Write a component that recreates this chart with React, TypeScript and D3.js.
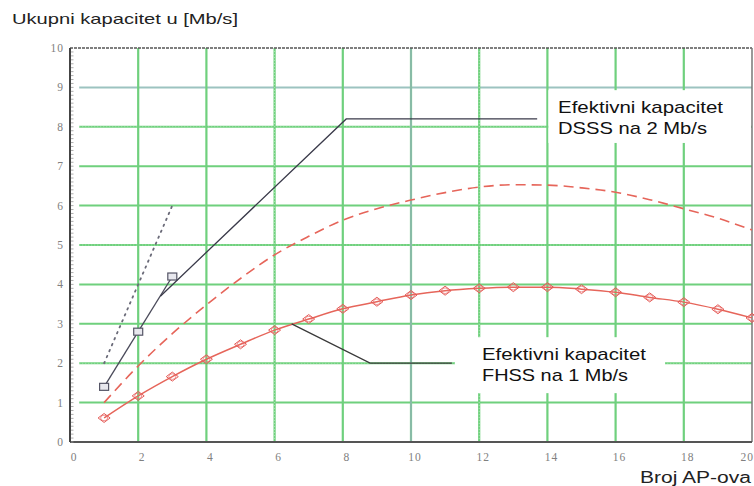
import React from "react";
import * as d3 from "d3";

// broj AP-ova (x) i kapaciteti u Mb/s (y), ocitano sa slike
const apCount = [1, 2, 3, 4, 5, 6, 7, 8, 9, 10, 11, 12, 13, 14, 15, 16, 17, 18, 19, 20];
const fhssValues = [0.61, 1.17, 1.66, 2.1, 2.48, 2.84, 3.12, 3.38, 3.56, 3.73, 3.84, 3.9, 3.93, 3.93, 3.88, 3.8, 3.67, 3.55, 3.37, 3.15];
const dsssCurve = [1.0, 1.93, 2.75, 3.48, 4.15, 4.75, 5.22, 5.63, 5.92, 6.14, 6.33, 6.47, 6.53, 6.52, 6.45, 6.34, 6.15, 5.92, 5.68, 5.38];
const dsssApCount = [1, 2, 3];
const dsssMeasured = [1.4, 2.8, 4.2];
const idealValues = [2, 4, 6];

const xTicks = [0, 2, 4, 6, 8, 10, 12, 14, 16, 18, 20];
const yTicks = [0, 1, 2, 3, 4, 5, 6, 7, 8, 9, 10];
const dottedGridX = [6, 12];
const dottedGridY = [2, 5, 8];

const dsssLeader: [number, number][] = [[2.65, 3.7], [8.1, 8.2], [13.7, 8.2]];
const fhssLeader: [number, number][] = [[6.5, 3.0], [8.8, 2.0], [11.2, 2.0]];

const W = 754;
const H = 486;
const x = d3.scaleLinear().domain([0, 20]).range([70, 752]);
const y = d3.scaleLinear().domain([0, 10]).range([442, 48]);

const GREEN = "#6fd07d";
const RED = "#e6655a";

export default function App() {
  const line = d3.line<[number, number]>().x(d => x(d[0])).y(d => y(d[1]));
  const fhssPts = apCount.map((a, i) => [a, fhssValues[i]] as [number, number]);
  const dsssPts = apCount.map((a, i) => [a, dsssCurve[i]] as [number, number]);
  const measPts = dsssApCount.map((a, i) => [a, dsssMeasured[i]] as [number, number]);
  const idealPts = dsssApCount.map((a, i) => [a, idealValues[i]] as [number, number]);
  const minorTicks = d3.range(0, 100).map(i => i / 10);
  const sans = "'Liberation Sans', Arial, sans-serif";
  const serif = "'Liberation Serif', 'Times New Roman', serif";

  return (
    <svg width={W} height={H} style={{ position: "absolute", left: 0, top: 0, background: "#fff" }}>
      {/* grid */}
      {yTicks.filter(t => t > 0 && t < 10).map(t => (
        <g key={"gy" + t}>
          <line x1={x(0.27)} x2={x(20)} y1={y(t)} y2={y(t)}
            stroke={t === 9 ? "#9cc3c0" : GREEN} strokeWidth={2} />
          {dottedGridY.includes(t) && (
            <line x1={x(0.27)} x2={x(20)} y1={y(t)} y2={y(t)} stroke="#a8e6b0" strokeWidth={1} strokeDasharray="1,2" />
          )}
        </g>
      ))}
      {xTicks.filter(t => t > 0 && t < 20).map(t => (
        <g key={"gx" + t}>
          <line x1={x(t)} x2={x(t)} y1={y(10)} y2={y(0)} stroke={GREEN} strokeWidth={2.2} />
          {t === 10 && (
            <line x1={x(t)} x2={x(t)} y1={y(10)} y2={y(0)} stroke="#93b3b8" strokeWidth={1.4} />
          )}
          {dottedGridX.includes(t) && (
            <line x1={x(t)} x2={x(t)} y1={y(10)} y2={y(0)} stroke="#a8e6b0" strokeWidth={1} strokeDasharray="1,2" />
          )}
        </g>
      ))}

      {/* label boxes hide the grid */}
      <rect x={x(14.03)} y={y(8.93)} width={x(20) - x(14.03) - 1} height={y(7.59) - y(8.93)} fill="#fff" />
      <rect x={x(11.29)} y={y(2.66)} width={x(17.45) - x(11.29)} height={y(1.24) - y(2.66)} fill="#fff" />

      {/* frame */}
      <line x1={x(0)} x2={x(20)} y1={y(10)} y2={y(10)} stroke="#555" strokeWidth={1.5} strokeDasharray="3,1" />
      <line x1={x(20)} x2={x(20)} y1={y(10)} y2={y(0)} stroke="#777" strokeWidth={1.5} />
      <line x1={x(0)} x2={x(20)} y1={y(0)} y2={y(0)} stroke="#555" strokeWidth={2} />
      <line x1={x(0)} x2={x(0)} y1={y(10)} y2={y(0)} stroke="#444" strokeWidth={2} />
      {minorTicks.map(t => (
        <line key={"mt" + t} x1={x(0) + 1} x2={x(0) + 3.5} y1={y(t)} y2={y(t)} stroke="#999" strokeWidth={0.8} />
      ))}

      {/* tick labels */}
      {yTicks.map(t => (
        <text key={"ly" + t} x={x(0) - 6} y={y(t) + 4} textAnchor="end" fontFamily={serif} fontSize={11.5}
          letterSpacing={1} fill="#808080">{t}</text>
      ))}
      {xTicks.map(t => (
        <text key={"lx" + t} x={t === 20 ? 754 : x(t) + 4} y={y(0) + 19} textAnchor={t === 20 ? "end" : "middle"}
          fontFamily={serif} fontSize={11.5} letterSpacing={1} fill="#808080">{t}</text>
      ))}

      {/* series */}
      <path d={line(idealPts) || ""} fill="none" stroke="#6a6a78" strokeWidth={1.8} strokeDasharray="1.5,5" strokeLinecap="round" />
      <path d={line.curve(d3.curveMonotoneX)(dsssPts) || ""} fill="none" stroke={RED} strokeWidth={1.6} strokeDasharray="10,6" />
      <path d={line.curve(d3.curveMonotoneX)(fhssPts) || ""} fill="none" stroke={RED} strokeWidth={1.5} />
      {fhssPts.map(p => (
        <g key={"fm" + p[0]}>
          <path d={`M${x(p[0]) - 6},${y(p[1])} L${x(p[0])},${y(p[1]) - 4.5} L${x(p[0]) + 6},${y(p[1])} L${x(p[0])},${y(p[1]) + 4.5}Z`}
            fill="none" stroke="#e55a55" strokeWidth={1} />
          <ellipse cx={x(p[0])} cy={y(p[1])} rx={3.5} ry={2.8} fill="none" stroke="#e87070" strokeWidth={0.8} />
        </g>
      ))}
      <path d={line.curve(d3.curveLinear)(measPts) || ""} fill="none" stroke="#4a4a5a" strokeWidth={1.3} />
      {measPts.map(p => (
        <rect key={"sq" + p[0]} x={x(p[0]) - 4.5} y={y(p[1]) - 3.5} width={9} height={7}
          fill="#e8e8ee" stroke="#555566" strokeWidth={1.2} />
      ))}

      {/* leader lines */}
      <path d={line(dsssLeader) || ""} fill="none" stroke="#3a3a4a" strokeWidth={1.3} />
      <path d={line(fhssLeader) || ""} fill="none" stroke="#3a3a3a" strokeWidth={1.3} />

      {/* annotations */}
      <text x={558} y={113} fontFamily={sans} fontSize={17} fill="#111" textLength={165} lengthAdjust="spacingAndGlyphs">Efektivni kapacitet</text>
      <text x={558} y={134} fontFamily={sans} fontSize={17} fill="#111" textLength={149} lengthAdjust="spacingAndGlyphs">DSSS na 2 Mb/s</text>
      <text x={482} y={360} fontFamily={sans} fontSize={17} fill="#111" textLength={164} lengthAdjust="spacingAndGlyphs">Efektivni kapacitet</text>
      <text x={482} y={381} fontFamily={sans} fontSize={17} fill="#111" textLength={146} lengthAdjust="spacingAndGlyphs">FHSS na 1 Mb/s</text>

      {/* axis titles */}
      <text x={12} y={24} fontFamily={sans} fontSize={15} fill="#222" textLength={226} lengthAdjust="spacingAndGlyphs">Ukupni kapacitet u [Mb/s]</text>
      <text x={640} y={483} fontFamily={sans} fontSize={16} fill="#222" textLength={111} lengthAdjust="spacingAndGlyphs">Broj AP-ova</text>
    </svg>
  );
}
